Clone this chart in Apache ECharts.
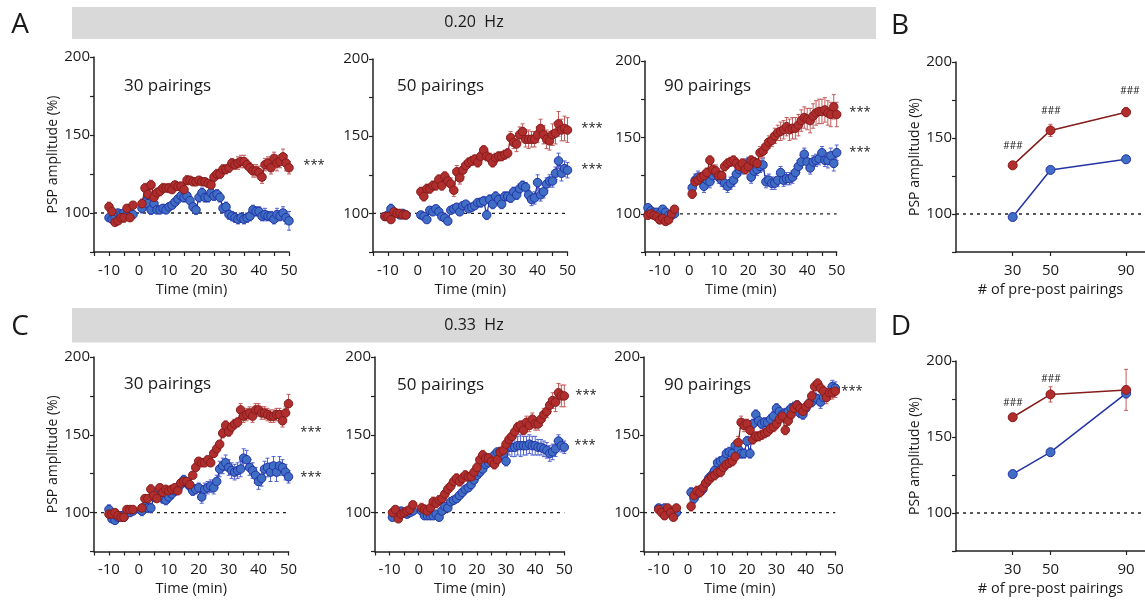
<!DOCTYPE html>
<html><head><meta charset="utf-8">
<script src="https://cdn.jsdelivr.net/npm/echarts@6/dist/echarts.min.js"></script>
<style>html,body{margin:0;padding:0;background:#fff}#chart{width:1145px;height:603px}</style>
</head><body><div id="chart"></div><script>
// ---------- DATA ----------
const postT = [1,2,3,4,5,6,7,8,9,10,11,12,13,14,15,16,17,18,19,20,21,22,23,24,25,26,27,28,29,30,31,32,33,34,35,36,37,38,39,40,41,42,43,44,45,46,47,48,49,50];
const timeTicks = [-10,0,10,20,30,40,50];
const pairingCats = [30,50,90];

// 0.20 Hz, 30 pairings
const a1BaseT = [-10,-9,-8,-7,-6,-5,-4,-3,-2];
const a1RedBase = [104,101,94,95,97,97,103,97,105];
const a1BlueBase = [97,96,97,100,99,100,99,98,99];
const a1RedPost = [106,116,112,118,110,113,114,116,116,116,115,118,117,117,115,121,121,120,120,121,120,120,119,118,123,125,125,128,128,129,132,131,132,133,133,131,129,127,127,126,123,131,132,129,135,132,133,136,132,129];
const a1BluePost = [103,107,106,102,106,102,102,103,102,104,105,107,109,111,110,111,108,104,102,110,113,110,110,113,111,112,110,103,104,99,98,97,96,97,96,97,98,102,101,101,98,99,98,98,96,99,98,100,97,95];
const a1RedErr = [3,2,2,2,2,3,2,2,2, 3,3,3,3,3,3,3,3,2,3,2,2,2,3,2,3,2,2,2,2,2,2,2,2,3,3,3,3,3,3,3,3,4,4,4,3,3,4,4,4,4,4,4,4,4,5,4,5,5,4];
const a1BlueErr = [2,2,2,2,2,2,2,2,2, 3,3,3,3,2,2,2,2,2,2,2,2,2,2,3,2,2,2,3,3,3,3,3,3,3,3,3,3,3,3,3,3,3,3,3,3,3,3,3,3,3,4,3,3,3,4,3,4,4,6];

// 0.20 Hz, 50 pairings
const a2BaseT = [-11,-10,-9,-8,-7,-6,-5,-4];
const a2RedBase = [98,98,96,101,100,100,99,99];
const a2BlueBase = [98,99,103,100,100,99,100,99];
const a2RedPost = [114,111,116,116,118,118,122,118,124,121,119,115,127,123,128,131,133,134,135,133,137,141,137,136,133,136,137,137,138,139,149,146,145,151,153,148,148,148,148,151,155,151,148,147,151,152,158,154,155,154];
const a2BluePost = [99,98,96,102,101,103,101,98,97,95,102,103,104,101,105,106,103,104,105,107,107,108,99,109,106,111,109,106,111,111,110,114,112,116,118,117,112,109,110,120,112,114,119,121,121,126,134,126,129,128];
const a2RedErr = [2,2,2,2,2,2,2,2, 3,3,3,3,3,3,3,3,3,3,4,4,4,4,4,3,3,3,3,3,3,3,3,3,3,3,3,3,3,3,4,4,5,5,5,5,6,5,5,5,6,6,6,6,7,7,8,7,8,8];
const a2BlueErr = [2,2,3,2,2,2,2,2, 2,2,2,2,2,2,2,2,2,2,2,2,2,2,2,2,2,2,2,2,3,3,3,3,3,3,3,3,3,3,3,3,3,3,3,3,3,4,4,5,4,4,4,4,4,4,5,5,5,5];

// 0.20 Hz, 90 pairings
const a3BaseT = [-14,-13,-12,-11,-10,-9,-8,-7,-6,-5];
const a3RedBase = [99,100,99,98,96,97,95,96,100,103];
const a3BlueBase = [104,102,101,101,100,103,101,99,99,100];
const a3RedPost = [113,121,122,124,125,127,135,129,128,125,125,131,133,134,135,133,131,133,129,131,135,134,133,140,141,144,147,148,151,153,154,155,157,155,156,156,158,161,163,162,161,164,166,167,167,168,166,165,170,165];
const a3BluePost = [117,122,124,122,118,122,121,125,127,124,122,120,118,120,122,126,129,130,132,133,124,128,129,131,132,121,122,120,120,122,127,122,123,123,124,127,131,134,139,134,130,134,135,136,140,135,135,138,133,140];
const a3RedErr = [2,2,2,2,2,2,2,2,2,2, 3,3,3,3,3,3,3,3,4,3,3,3,3,3,3,3,3,3,3,3,3,3,3,4,4,4,4,4,5,5,6,6,6,7,7,7,7,7,7,7,8,8,8,8,8,8,8,8,8,8];
const a3BlueErr = [2,2,2,2,2,2,2,2,2,2, 3,4,4,4,4,4,4,4,4,4,4,4,4,4,4,4,4,4,4,4,4,4,4,4,4,4,4,4,4,4,4,4,4,4,4,4,4,4,4,4,4,4,4,4,4,4,5,5,5,5];

// 0.33 Hz, 30 pairings
const c1BaseT = [-10,-9,-8,-7,-6,-5,-4,-3,-2];
const c1RedBase = [99,99,100,98,97,97,102,102,102];
const c1BlueBase = [102,96,95,97,98,97,100,100,101];
const c1RedPost = [103,109,109,115,111,109,116,113,115,114,115,116,114,119,120,120,118,124,129,133,132,132,134,132,138,141,144,151,156,152,155,157,158,166,162,163,164,162,166,166,164,164,163,162,162,163,163,159,164,170];
const c1BluePost = [101,104,103,103,110,113,111,109,108,110,112,114,116,118,121,119,117,114,115,116,110,115,116,117,116,120,128,130,132,129,127,126,127,128,135,134,129,127,124,120,122,128,129,126,130,126,130,129,126,123];
const c1RedErr = [2,2,2,2,2,2,2,2,2, 2,2,2,3,2,2,2,2,2,2,2,2,2,2,2,2,2,2,2,2,2,2,2,2,2,2,2,3,3,3,3,3,3,4,4,4,4,4,4,4,4,4,4,4,4,4,4,4,4,6];
const c1BlueErr = [3,2,2,2,2,2,2,2,2, 3,3,3,3,3,3,3,3,3,3,3,3,3,3,3,3,3,3,3,3,4,4,4,4,4,4,5,5,5,5,5,5,5,5,6,6,5,5,5,5,5,5,6,6,6,6,6,5,5,4];

// 0.33 Hz, 50 pairings
const c2BaseT = [-9,-8,-7,-6,-5,-4,-3,-2];
const c2RedBase = [100,102,96,99,100,101,102,105];
const c2BlueBase = [97,101,100,101,100,99,100,101];
const c2RedPost = [103,102,101,103,107,106,108,109,112,115,117,120,122,120,122,124,123,123,126,129,134,137,135,135,133,131,134,139,140,144,147,149,152,155,156,153,158,156,160,157,157,160,163,165,169,172,171,177,175,175];
const c2BluePost = [101,98,98,98,98,99,97,101,104,103,107,108,109,111,113,115,116,118,121,124,126,128,131,132,134,137,139,139,137,133,142,142,142,143,143,143,143,144,143,143,142,142,141,140,138,139,141,146,143,142];
const c2RedErr = [2,2,2,2,2,2,2,2, 3,3,3,3,3,3,3,3,3,3,3,3,3,3,3,3,3,3,3,3,3,3,3,3,3,3,3,3,3,3,3,3,3,3,3,3,4,4,4,4,4,4,4,4,4,5,6,6,7,7,6,5];
const c2BlueErr = [2,2,2,2,2,2,2,2, 2,2,2,2,2,2,2,2,2,2,2,2,2,2,2,2,2,2,2,2,2,2,2,2,2,2,2,2,3,3,5,6,6,6,7,6,6,6,6,6,5,5,5,5,5,5,5,4,4,4];

// 0.33 Hz, 90 pairings
const c3BaseT = [-10,-9,-8,-7,-6,-5,-4];
const c3RedBase = [102,100,98,103,100,97,103];
const c3BlueBase = [103,102,103,101,101,100,100];
const c3RedPost = [104,111,114,113,116,119,121,123,124,126,126,129,131,132,133,136,145,158,156,157,153,147,149,149,150,151,152,154,155,157,160,162,153,159,163,167,169,167,165,168,170,175,181,183,180,178,174,177,177,178];
const c3BluePost = [113,109,112,114,115,119,122,124,127,132,133,134,138,139,138,143,141,138,138,146,138,157,163,159,157,158,158,160,162,167,165,163,164,165,167,168,169,164,163,167,170,171,174,173,171,174,176,177,181,180];
const c3RedErr = [2,2,2,2,2,2,2, 3,3,3,3,3,3,3,3,3,3,3,3,3,3,3,3,4,4,4,3,3,3,3,3,3,3,3,3,3,3,3,3,3,3,3,3,3,3,3,3,3,3,3,3,3,3,4,4,4,4,4,4,4,4];
const c3BlueErr = [2,2,2,2,2,2,2, 3,3,3,3,3,3,3,3,3,3,3,3,3,3,3,3,3,3,3,3,3,3,3,3,3,3,3,3,3,3,3,3,3,3,3,3,3,3,3,3,3,3,3,3,4,4,4,4,4,4,4,4,4,4];

// Summary panels (B: 0.20 Hz, D: 0.33 Hz)
const bRed = [132,155,167];
const bRedErr = [2,4,3];
const bBlue = [98,129,136];
const bBlueErr = [1.5,2,2];
const dRed = [163,178,181];
const dRedErr = [2,5,13.5];
const dBlue = [125.6,140,178.7];
const dBlueErr = [2,2,3];

// ---------- STYLE ----------
const FONT = 'Open Sans';
const TXT = '#1a1a1a';
const RED_FILL = '#b02f2e', RED_EDGE = '#861b1b', RED_ERR = '#c45a5a';
const BLUE_FILL = '#3f6ec4', BLUE_EDGE = '#2333a6', BLUE_ERR = '#4f61cf';

const timePanels = [
  {box:[94,57,195,195], baseT:a1BaseT, red:[a1RedBase,a1RedPost,a1RedErr], blue:[a1BlueBase,a1BluePost,a1BlueErr], yName:true},
  {box:[373,59,194.5,193], baseT:a2BaseT, red:[a2RedBase,a2RedPost,a2RedErr], blue:[a2BlueBase,a2BluePost,a2BlueErr], yName:false},
  {box:[645,61,191.7,191], baseT:a3BaseT, red:[a3RedBase,a3RedPost,a3RedErr], blue:[a3BlueBase,a3BluePost,a3BlueErr], yName:false},
  {box:[94,357,194.5,194.5], baseT:c1BaseT, red:[c1RedBase,c1RedPost,c1RedErr], blue:[c1BlueBase,c1BluePost,c1BlueErr], yName:true},
  {box:[375,357,189.3,194.5], baseT:c2BaseT, red:[c2RedBase,c2RedPost,c2RedErr], blue:[c2BlueBase,c2BluePost,c2BlueErr], yName:false},
  {box:[644,357,191.3,194.5], baseT:c3BaseT, red:[c3RedBase,c3RedPost,c3RedErr], blue:[c3BlueBase,c3BluePost,c3BlueErr], yName:false}
];
const sumPanels = [
  {box:[956,62,190,190], red:[bRed,bRedErr], blue:[bBlue,bBlueErr]},
  {box:[956,361,190,190], red:[dRed,dRedErr], blue:[dBlue,dBlueErr]}
];

const grids = [], xAxes = [], yAxes = [], series = [];
const axisLine = {show:true, onZero:false, lineStyle:{color:'#222', width:1.5}};
const axisTick = {show:true, length:4, inside:false, lineStyle:{color:'#222', width:1.2}};
const LBL = 15;

function yAxisCfg(idx, showName){
  return {type:'value', gridIndex:idx, min:75, max:200, interval:25,
    axisLine, axisTick, splitLine:{show:false},
    axisLabel:{color:TXT, fontFamily:FONT, fontSize:LBL, margin:4, formatter:v => (v % 50 === 0 && v >= 100) ? String(v) : ''},
    name: showName ? 'PSP amplitude (%)' : '', nameLocation:'middle', nameGap:31, nameRotate:90,
    nameTextStyle:{color:TXT, fontFamily:FONT, fontSize:14}};
}

function errRender(color){
  return function(params, api){
    const x = api.value(0), lo = api.value(1), hi = api.value(2);
    const p1 = api.coord([x, lo]), p2 = api.coord([x, hi]);
    const w = 2;
    const style = {stroke:color, lineWidth:1};
    return {type:'group', children:[
      {type:'line', shape:{x1:p1[0],y1:p1[1],x2:p2[0],y2:p2[1]}, style},
      {type:'line', shape:{x1:p1[0]-w,y1:p1[1],x2:p1[0]+w,y2:p1[1]}, style},
      {type:'line', shape:{x1:p2[0]-w,y1:p2[1],x2:p2[0]+w,y2:p2[1]}, style}
    ]};
  };
}

function lineSeries(idx, data, fill, edge){
  return {type:'line', xAxisIndex:idx, yAxisIndex:idx, data, symbol:'circle', symbolSize:8.5,
    showSymbol:true, showAllSymbol:true, connectNulls:false, animation:false, silent:true, z:4,
    lineStyle:{color:edge, width:1.2}, itemStyle:{color:fill, borderColor:edge, borderWidth:1},
    emphasis:{disabled:true}};
}
function errSeries(idx, data, color){
  return {type:'custom', xAxisIndex:idx, yAxisIndex:idx, data, renderItem:errRender(color),
    encode:{x:0, y:[1,2]}, animation:false, silent:true, z:3};
}
function refLine(idx, x0, x1){
  return {type:'line', xAxisIndex:idx, yAxisIndex:idx, data:[[x0,100],[x1,100]], symbol:'none',
    lineStyle:{color:'#222', width:1.3, type:[3,4]}, animation:false, silent:true, z:1};
}

timePanels.forEach((p, i) => {
  grids.push({left:p.box[0], top:p.box[1], width:p.box[2], height:p.box[3], containLabel:false});
  xAxes.push({type:'value', gridIndex:i, min:-15, max:50, interval:5,
    axisLine, axisTick, splitLine:{show:false},
    axisLabel:{color:TXT, fontFamily:FONT, fontSize:LBL, margin:11, formatter:v => timeTicks.indexOf(v) >= 0 ? String(v) : ''},
    name:'Time (min)', nameLocation:'middle', nameGap:30,
    nameTextStyle:{color:TXT, fontFamily:FONT, fontSize:14.5}});
  yAxes.push(yAxisCfg(i, p.yName));
  series.push(refLine(i, -15, 50));
  [['blue', BLUE_FILL, BLUE_EDGE, BLUE_ERR], ['red', RED_FILL, RED_EDGE, RED_ERR]].forEach(([k, fill, edge, ec]) => {
    const [base, post, err] = p[k];
    const ts = p.baseT.concat(postT);
    const vs = base.concat(post);
    const eData = ts.map((t, j) => [t, vs[j] - err[j], vs[j] + err[j]]);
    const lData = p.baseT.map((t, j) => [t, base[j]]);
    lData.push([0, null]);
    postT.forEach((t, j) => lData.push([t, post[j]]));
    series.push(errSeries(i, eData, ec));
    series.push(lineSeries(i, lData, fill, edge));
  });
});

sumPanels.forEach((p, k) => {
  const i = timePanels.length + k;
  grids.push({left:p.box[0], top:p.box[1], width:p.box[2], height:p.box[3], containLabel:false});
  xAxes.push({type:'value', gridIndex:i, min:0, max:100,
    axisLine, axisTick:Object.assign({}, axisTick, {customValues:pairingCats}), splitLine:{show:false},
    axisLabel:{color:TXT, fontFamily:FONT, fontSize:LBL, margin:11, customValues:pairingCats},
    name:'# of pre-post pairings', nameLocation:'middle', nameGap:30,
    nameTextStyle:{color:TXT, fontFamily:FONT, fontSize:14.5}});
  yAxes.push(yAxisCfg(i, true));
  series.push(refLine(i, 0, 100));
  [['blue', BLUE_FILL, BLUE_EDGE, BLUE_ERR], ['red', RED_FILL, RED_EDGE, RED_ERR]].forEach(([key, fill, edge, ec]) => {
    const [vals, errs] = p[key];
    series.push(errSeries(i, pairingCats.map((c, j) => [c, vals[j] - errs[j], vals[j] + errs[j]]), ec));
    const s = lineSeries(i, pairingCats.map((c, j) => [c, vals[j]]), fill, edge);
    s.lineStyle.width = 1.5;
    s.symbolSize = 9;
    series.push(s);
  });
});

function txt(x, y, text, size, align, weight){
  return {type:'text', x, y, silent:true, z:100,
    style:{text, fill:TXT, fontFamily:FONT, fontSize:size, fontWeight:weight || 'normal',
      align:align || 'center', textAlign:align || 'center', verticalAlign:'middle', textVerticalAlign:'middle'}};
}

const graphic = [
  {type:'rect', shape:{x:72, y:7, width:804, height:32}, style:{fill:'#d9d9d9'}, silent:true, z:0},
  {type:'rect', shape:{x:72, y:308, width:804, height:34.5}, style:{fill:'#d9d9d9'}, silent:true, z:0},
  txt(474, 22, '0.20  Hz', 16),
  txt(474, 325, '0.33  Hz', 16),
  txt(20, 25, 'A', 28, 'center'),
  txt(900, 26, 'B', 28, 'center'),
  txt(20, 327, 'C', 28, 'center'),
  txt(901, 327, 'D', 28, 'center'),
  txt(124, 86, '30 pairings', 17, 'left'),
  txt(397, 86, '50 pairings', 17, 'left'),
  txt(664, 86, '90 pairings', 17, 'left'),
  txt(124, 384, '30 pairings', 17, 'left'),
  txt(397, 385, '50 pairings', 17, 'left'),
  txt(664, 385, '90 pairings', 17, 'left'),
  txt(314, 165, '***', 13),
  txt(592, 128, '***', 13),
  txt(592, 169, '***', 13),
  txt(860, 112, '***', 13),
  txt(860, 152, '***', 13),
  txt(311, 432, '***', 13),
  txt(311, 477, '***', 13),
  txt(586, 395, '***', 13),
  txt(585, 445, '***', 13),
  txt(852, 391, '***', 13),
  txt(1013, 146, '###', 10),
  txt(1051, 111, '###', 10),
  txt(1130, 91, '###', 10),
  txt(1013, 403, '###', 10),
  txt(1051, 379, '###', 10)
];

const chart = echarts.init(document.getElementById('chart'), null, {renderer:'canvas'});
chart.setOption({
  animation:false,
  backgroundColor:'#ffffff',
  textStyle:{fontFamily:FONT},
  grid:grids, xAxis:xAxes, yAxis:yAxes, series, graphic
});
</script></body></html>
